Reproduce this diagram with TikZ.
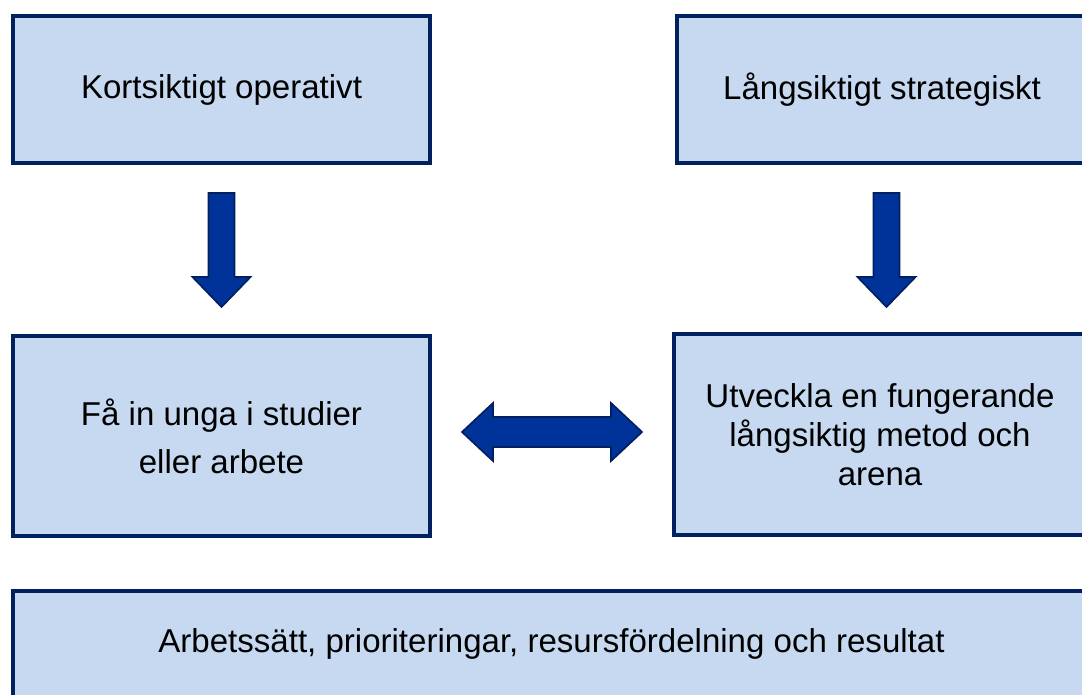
\documentclass[tikz,border=0pt]{standalone}
\usepackage{fontspec}
\setmainfont{Liberation Sans}
\usetikzlibrary{positioning,calc}
\definecolor{NavyLine}{RGB}{0,32,96}
\definecolor{BoxFill}{RGB}{198,217,241}
\definecolor{ArrowBlue}{RGB}{0,51,153}
\tikzset{
  bluebox/.style={draw=NavyLine,fill=BoxFill,line width=2.8pt,
                  inner sep=0pt,align=center,text=black,
                  font=\fontsize{23.5}{28}\selectfont},
  blockarr/.style={draw=NavyLine,fill=ArrowBlue,line width=1.2pt,line join=miter},
}
\begin{document}
\begin{tikzpicture}[x=0.025cm,y=-0.025cm]
  \useasboundingbox (0,0) rectangle (1082,695);
  \clip (0,0) rectangle (1082,695);
  % top row
  \node[bluebox, minimum width=10.425cm, minimum height=3.675cm] (kort) at (221.5,89.5) {Kortsiktigt operativt};
  \node[bluebox, minimum width=10.25cm, minimum height=3.675cm] (lang) at (882,89.5) {Långsiktigt strategiskt};
  % middle row
  \node[bluebox, minimum width=10.425cm, minimum height=5cm,
        font=\fontsize{23.5}{34}\selectfont] (fa) at (221.5,436) {Få in unga i studier\\eller arbete};
  \node[bluebox, minimum width=10.3cm, minimum height=5.0125cm,
        font=\fontsize{23.5}{27.7}\selectfont] (utv) at (880,434.25) {Utveckla en fungerande\\långsiktig metod och\\arena};
  % bottom row
  \node[bluebox, minimum width=26.925cm, minimum height=2.65cm] (res) at (551.5,644) {Arbetssätt, prioriteringar, resursfördelning och resultat};
  % block arrows
  \foreach \cx in {221.5,886.5}{
    \draw[blockarr] (\cx-13,193) -- (\cx+13,193) -- (\cx+13,277) -- (\cx+29,277)
      -- (\cx,307) -- (\cx-29,277) -- (\cx-13,277) -- cycle;
  }
  \draw[blockarr] (462,432) -- (493,403) -- (493,417) -- (611,417) -- (611,403)
    -- (642,432) -- (611,461) -- (611,447) -- (493,447) -- (493,461) -- cycle;
\end{tikzpicture}
\end{document}
